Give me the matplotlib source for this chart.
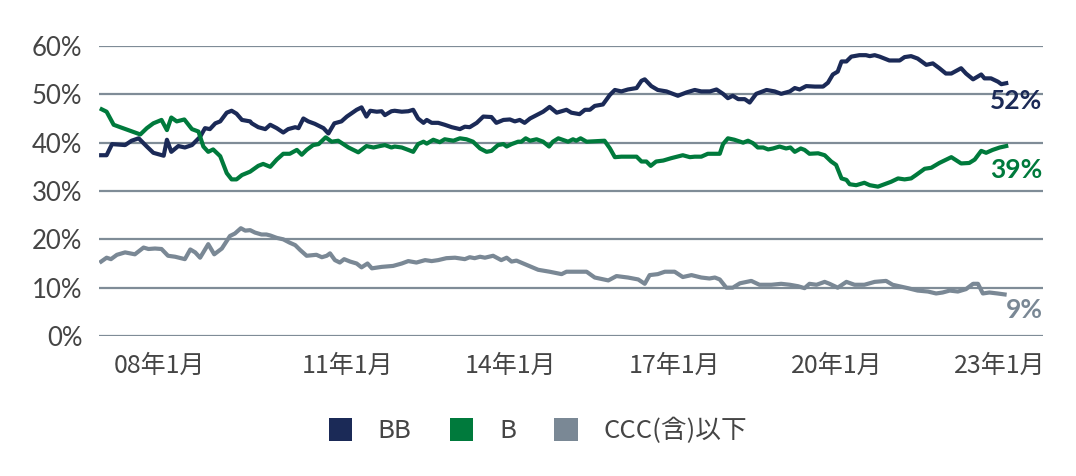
import matplotlib
matplotlib.use("Agg")
import matplotlib.pyplot as plt
from matplotlib.patches import Patch
from matplotlib.ticker import FixedLocator, PercentFormatter

# ── Data (decimal years, % of index) ──────────────────────────────────────────

BB_T = [2006.46, 2006.56, 2006.66, 2006.90, 2007.02, 2007.15, 2007.30, 2007.42, 2007.61, 2007.67,
        2007.75, 2007.88, 2008.00, 2008.13, 2008.28, 2008.37, 2008.46, 2008.56, 2008.65, 2008.77,
        2008.86, 2008.95, 2009.05, 2009.20, 2009.23, 2009.35, 2009.48, 2009.57, 2009.69, 2009.81,
        2009.90, 2010.03, 2010.09, 2010.18, 2010.27, 2010.39, 2010.55, 2010.64, 2010.75, 2010.88,
        2010.98, 2011.07, 2011.16, 2011.25, 2011.34, 2011.41, 2011.53, 2011.62, 2011.68, 2011.80,
        2011.86, 2011.99, 2012.11, 2012.20, 2012.29, 2012.39, 2012.45, 2012.54, 2012.66, 2012.78,
        2012.91, 2013.06, 2013.15, 2013.24, 2013.37, 2013.49, 2013.64, 2013.73, 2013.86, 2013.98,
        2014.07, 2014.16, 2014.25, 2014.35, 2014.47, 2014.59, 2014.71, 2014.84, 2015.02, 2015.11,
        2015.26, 2015.36, 2015.45, 2015.54, 2015.69, 2015.82, 2015.91, 2016.03, 2016.15, 2016.31,
        2016.40, 2016.46, 2016.58, 2016.70, 2016.86, 2017.07, 2017.23, 2017.38, 2017.50, 2017.66,
        2017.78, 2017.90, 2017.99, 2018.08, 2018.18, 2018.30, 2018.39, 2018.51, 2018.70, 2018.85,
        2018.97, 2019.13, 2019.22, 2019.31, 2019.43, 2019.59, 2019.74, 2019.83, 2019.92, 2020.01,
        2020.08, 2020.17, 2020.26, 2020.41, 2020.53, 2020.60, 2020.69, 2020.78, 2020.96, 2021.15,
        2021.24, 2021.36, 2021.48, 2021.64, 2021.76, 2021.88, 2022.00, 2022.10, 2022.28, 2022.37,
        2022.50, 2022.65, 2022.71, 2022.83, 2022.96, 2023.02, 2023.11]
BB_V = [37.4, 37.4, 39.7, 39.5, 40.4, 40.9, 39.2, 37.9, 37.3, 40.6,
        38.1, 39.3, 39.0, 39.5, 41.2, 43.0, 42.8, 44.0, 44.4, 46.2,
        46.6, 46.0, 44.7, 44.4, 44.0, 43.2, 42.8, 43.7, 43.0, 42.1,
        42.8, 43.2, 43.0, 45.0, 44.4, 43.9, 43.0, 41.9, 44.0, 44.4,
        45.4, 46.1, 46.8, 47.3, 45.4, 46.6, 46.4, 46.5, 45.7, 46.5,
        46.6, 46.4, 46.5, 46.8, 45.0, 44.1, 44.7, 44.1, 44.1, 43.7,
        43.2, 42.8, 43.3, 43.2, 44.1, 45.4, 45.3, 44.1, 44.7, 44.8,
        44.4, 44.7, 44.1, 45.0, 45.7, 46.4, 47.4, 46.2, 46.8, 46.2,
        45.9, 46.8, 46.8, 47.6, 47.9, 49.9, 50.9, 50.6, 51.0, 51.3,
        52.8, 53.1, 51.7, 50.9, 50.6, 49.7, 50.4, 50.9, 50.6, 50.6,
        51.0, 50.1, 49.2, 49.7, 49.0, 49.0, 48.3, 50.1, 50.9, 50.6,
        50.1, 50.6, 51.3, 51.0, 51.7, 51.6, 51.6, 52.4, 54.1, 54.7,
        56.8, 56.8, 57.8, 58.1, 58.1, 57.9, 58.1, 57.8, 57.0, 57.0,
        57.7, 57.9, 57.4, 56.1, 56.4, 55.4, 54.3, 54.3, 55.4, 54.3,
        53.1, 54.1, 53.3, 53.3, 52.6, 52.1, 52.3]

B_T = [2006.47, 2006.56, 2006.69, 2006.81, 2006.96, 2007.08, 2007.18, 2007.30, 2007.42, 2007.57,
       2007.67, 2007.75, 2007.85, 2007.99, 2008.13, 2008.25, 2008.34, 2008.43, 2008.52, 2008.65,
       2008.77, 2008.86, 2008.95, 2009.05, 2009.20, 2009.35, 2009.44, 2009.57, 2009.69, 2009.81,
       2009.93, 2010.06, 2010.15, 2010.24, 2010.36, 2010.46, 2010.59, 2010.70, 2010.82, 2011.01,
       2011.19, 2011.34, 2011.47, 2011.59, 2011.68, 2011.80, 2011.86, 2011.99, 2012.11, 2012.20,
       2012.29, 2012.39, 2012.45, 2012.57, 2012.69, 2012.78, 2012.94, 2013.06, 2013.18, 2013.30,
       2013.43, 2013.55, 2013.64, 2013.76, 2013.86, 2013.92, 2014.01, 2014.13, 2014.19, 2014.27,
       2014.35, 2014.47, 2014.59, 2014.70, 2014.77, 2014.87, 2015.05, 2015.14, 2015.20, 2015.28,
       2015.39, 2015.54, 2015.72, 2015.82, 2015.91, 2016.03, 2016.31, 2016.40, 2016.49, 2016.57,
       2016.67, 2016.80, 2016.95, 2017.16, 2017.29, 2017.38, 2017.50, 2017.62, 2017.84, 2017.90,
       2017.99, 2018.11, 2018.27, 2018.36, 2018.45, 2018.54, 2018.64, 2018.73, 2018.82, 2018.94,
       2019.06, 2019.14, 2019.22, 2019.33, 2019.40, 2019.49, 2019.65, 2019.77, 2019.89, 2019.98,
       2020.08, 2020.17, 2020.23, 2020.35, 2020.50, 2020.60, 2020.75, 2020.87, 2020.99, 2021.12,
       2021.24, 2021.36, 2021.45, 2021.61, 2021.73, 2021.88, 2022.10, 2022.28, 2022.43, 2022.53,
       2022.65, 2022.74, 2022.86, 2022.99, 2023.11]
B_V = [46.9, 46.4, 43.7, 43.2, 42.6, 42.1, 41.7, 43.0, 44.0, 44.7,
       42.6, 45.2, 44.4, 44.8, 42.8, 42.3, 39.2, 38.1, 38.6, 37.2,
       33.7, 32.4, 32.4, 33.3, 34.0, 35.2, 35.6, 35.0, 36.5, 37.7,
       37.7, 38.5, 37.5, 38.5, 39.5, 39.7, 41.1, 40.2, 40.4, 39.0,
       38.0, 39.3, 39.0, 39.3, 39.5, 39.0, 39.2, 39.0, 38.5, 38.1,
       39.7, 40.2, 39.8, 40.6, 40.1, 40.7, 40.4, 40.9, 40.7, 40.2,
       38.8, 38.1, 38.3, 39.5, 39.7, 39.2, 39.7, 40.2, 40.2, 40.9,
       40.4, 40.7, 40.2, 39.2, 40.2, 40.9, 40.2, 40.7, 40.4, 40.9,
       40.2, 40.3, 40.4, 38.8, 37.0, 37.1, 37.1, 36.1, 36.1, 35.2,
       36.1, 36.3, 36.8, 37.4, 37.0, 37.1, 37.1, 37.7, 37.7, 39.7,
       40.9, 40.6, 40.0, 40.4, 39.9, 39.0, 39.0, 38.6, 38.8, 39.2,
       38.8, 39.0, 38.1, 38.8, 38.5, 37.7, 37.8, 37.4, 36.1, 35.4,
       32.6, 32.3, 31.4, 31.2, 31.7, 31.2, 30.9, 31.4, 31.9, 32.6,
       32.4, 32.6, 33.3, 34.6, 34.8, 35.8, 37.0, 35.7, 35.8, 36.5,
       38.3, 37.9, 38.5, 39.0, 39.3]

CCC_T = [2006.46, 2006.56, 2006.64, 2006.75, 2006.90, 2007.08, 2007.24, 2007.33, 2007.45, 2007.57,
         2007.69, 2007.82, 2008.00, 2008.10, 2008.19, 2008.28, 2008.43, 2008.54, 2008.68, 2008.83,
         2008.92, 2009.03, 2009.11, 2009.20, 2009.29, 2009.41, 2009.50, 2009.57, 2009.69, 2009.81,
         2009.93, 2010.03, 2010.12, 2010.24, 2010.42, 2010.52, 2010.61, 2010.67, 2010.76, 2010.85,
         2010.93, 2011.04, 2011.16, 2011.25, 2011.36, 2011.44, 2011.62, 2011.83, 2011.99, 2012.11,
         2012.26, 2012.42, 2012.54, 2012.66, 2012.81, 2012.97, 2013.15, 2013.24, 2013.33, 2013.43,
         2013.52, 2013.67, 2013.82, 2013.92, 2014.01, 2014.10, 2014.31, 2014.50, 2014.71, 2014.93,
         2015.02, 2015.39, 2015.54, 2015.79, 2015.94, 2016.15, 2016.34, 2016.46, 2016.55, 2016.70,
         2016.83, 2017.01, 2017.16, 2017.32, 2017.50, 2017.65, 2017.75, 2017.84, 2017.96, 2018.08,
         2018.21, 2018.42, 2018.57, 2018.79, 2018.97, 2019.13, 2019.28, 2019.40, 2019.49, 2019.62,
         2019.77, 2019.86, 2020.01, 2020.17, 2020.32, 2020.50, 2020.69, 2020.90, 2021.02, 2021.18,
         2021.30, 2021.48, 2021.67, 2021.82, 2021.94, 2022.07, 2022.22, 2022.37, 2022.50, 2022.59,
         2022.68, 2022.80, 2022.95, 2023.08]
CCC_V = [15.4, 16.2, 15.9, 16.8, 17.3, 16.9, 18.3, 18.0, 18.1, 18.0,
         16.6, 16.4, 15.9, 17.9, 17.3, 16.2, 19.0, 16.9, 18.1, 20.7,
         21.2, 22.3, 21.8, 21.9, 21.4, 21.0, 21.0, 20.8, 20.3, 20.0,
         19.3, 18.8, 17.8, 16.6, 16.8, 16.3, 16.6, 17.1, 15.7, 15.2,
         15.9, 15.4, 15.0, 14.2, 15.0, 14.0, 14.3, 14.5, 15.0, 15.5,
         15.2, 15.7, 15.5, 15.7, 16.1, 16.2, 15.9, 16.3, 16.1, 16.4,
         16.2, 16.6, 15.7, 16.2, 15.4, 15.6, 14.6, 13.7, 13.3, 12.8,
         13.3, 13.3, 12.1, 11.5, 12.4, 12.1, 11.7, 10.8, 12.6, 12.8,
         13.3, 13.3, 12.2, 12.6, 12.1, 11.9, 12.1, 11.7, 10.0, 10.0,
         10.9, 11.4, 10.6, 10.6, 10.8, 10.6, 10.3, 9.9, 10.8, 10.6,
         11.2, 10.8, 10.0, 11.2, 10.6, 10.6, 11.2, 11.4, 10.6, 10.2,
         9.9, 9.4, 9.2, 8.8, 9.0, 9.4, 9.2, 9.7, 10.8, 10.8,
         8.8, 9.0, 8.8, 8.6]

SERIES = ["BB", "B", "CCC(含)以下"]
TICK_POS = [2007.53, 2011, 2014, 2017, 2020, 2023]
TICK_LABELS = ["08年1月", "11年1月", "14年1月", "17年1月", "20年1月", "23年1月"]
Y_TICKS = [0, 10, 20, 30, 40, 50, 60]

# ── Style ─────────────────────────────────────────────────────────────────────

COLORS = {"BB": "#1b2a57", "B": "#007a3c", "CCC(含)以下": "#7a8895"}
C_GRID = "#7f8c97"
C_TEXT = "#454545"
LATIN = ["Lato", "DejaVu Sans"]
CJK = ["Noto Sans CJK JP", "DejaVu Sans"]

fig = plt.figure(figsize=(10.76, 4.76), dpi=100)
ax = fig.add_axes([0.092, 0.2941, 0.877, 0.6093])

data = {"BB": (BB_T, BB_V), "B": (B_T, B_V), "CCC(含)以下": (CCC_T, CCC_V)}
for name in SERIES:
    t, v = data[name]
    ax.plot(t, v, color=COLORS[name], lw=3.0, solid_joinstyle="round", zorder=3)

ax.set_xlim(2006.42, 2023.78)
ax.set_ylim(0, 60)
ax.yaxis.set_major_locator(FixedLocator(Y_TICKS))
ax.yaxis.set_major_formatter(PercentFormatter(decimals=0))
ax.grid(axis="y", color=C_GRID, lw=1.6, zorder=1)
ax.set_axisbelow(True)
for s in ax.spines.values():
    s.set_visible(False)

ax.set_xticks(TICK_POS)
ax.set_xticklabels(TICK_LABELS, family=CJK, fontsize=18, color=C_TEXT)
ax.tick_params(axis="x", length=0, pad=12)
ax.tick_params(axis="y", length=0, pad=12)
for lbl in ax.get_yticklabels():
    lbl.set_fontfamily(LATIN)
    lbl.set_fontsize(18.5)
    lbl.set_color(C_TEXT)

# end-of-line value labels
label_y = {"BB": 48.6, "B": 34.3, "CCC(含)以下": 5.4}
for name in SERIES:
    last = data[name][1][-1]
    ax.text(1.0, label_y[name], f"{round(last)}%", transform=ax.get_yaxis_transform(),
            ha="right", va="center", fontsize=19, fontweight="bold",
            family=LATIN, color=COLORS[name])

handles = [Patch(facecolor=COLORS[n], edgecolor="none") for n in SERIES]
leg = fig.legend(handles, SERIES, loc="center", bbox_to_anchor=(0.5, 0.095), ncol=3,
                 frameon=False, handlelength=0.9, handleheight=1.0, handletextpad=1.0,
                 columnspacing=1.5, prop={"family": CJK, "size": 18.5})
for txt in leg.get_texts():
    txt.set_color(C_TEXT)

fig.savefig("out.png", dpi=100)
